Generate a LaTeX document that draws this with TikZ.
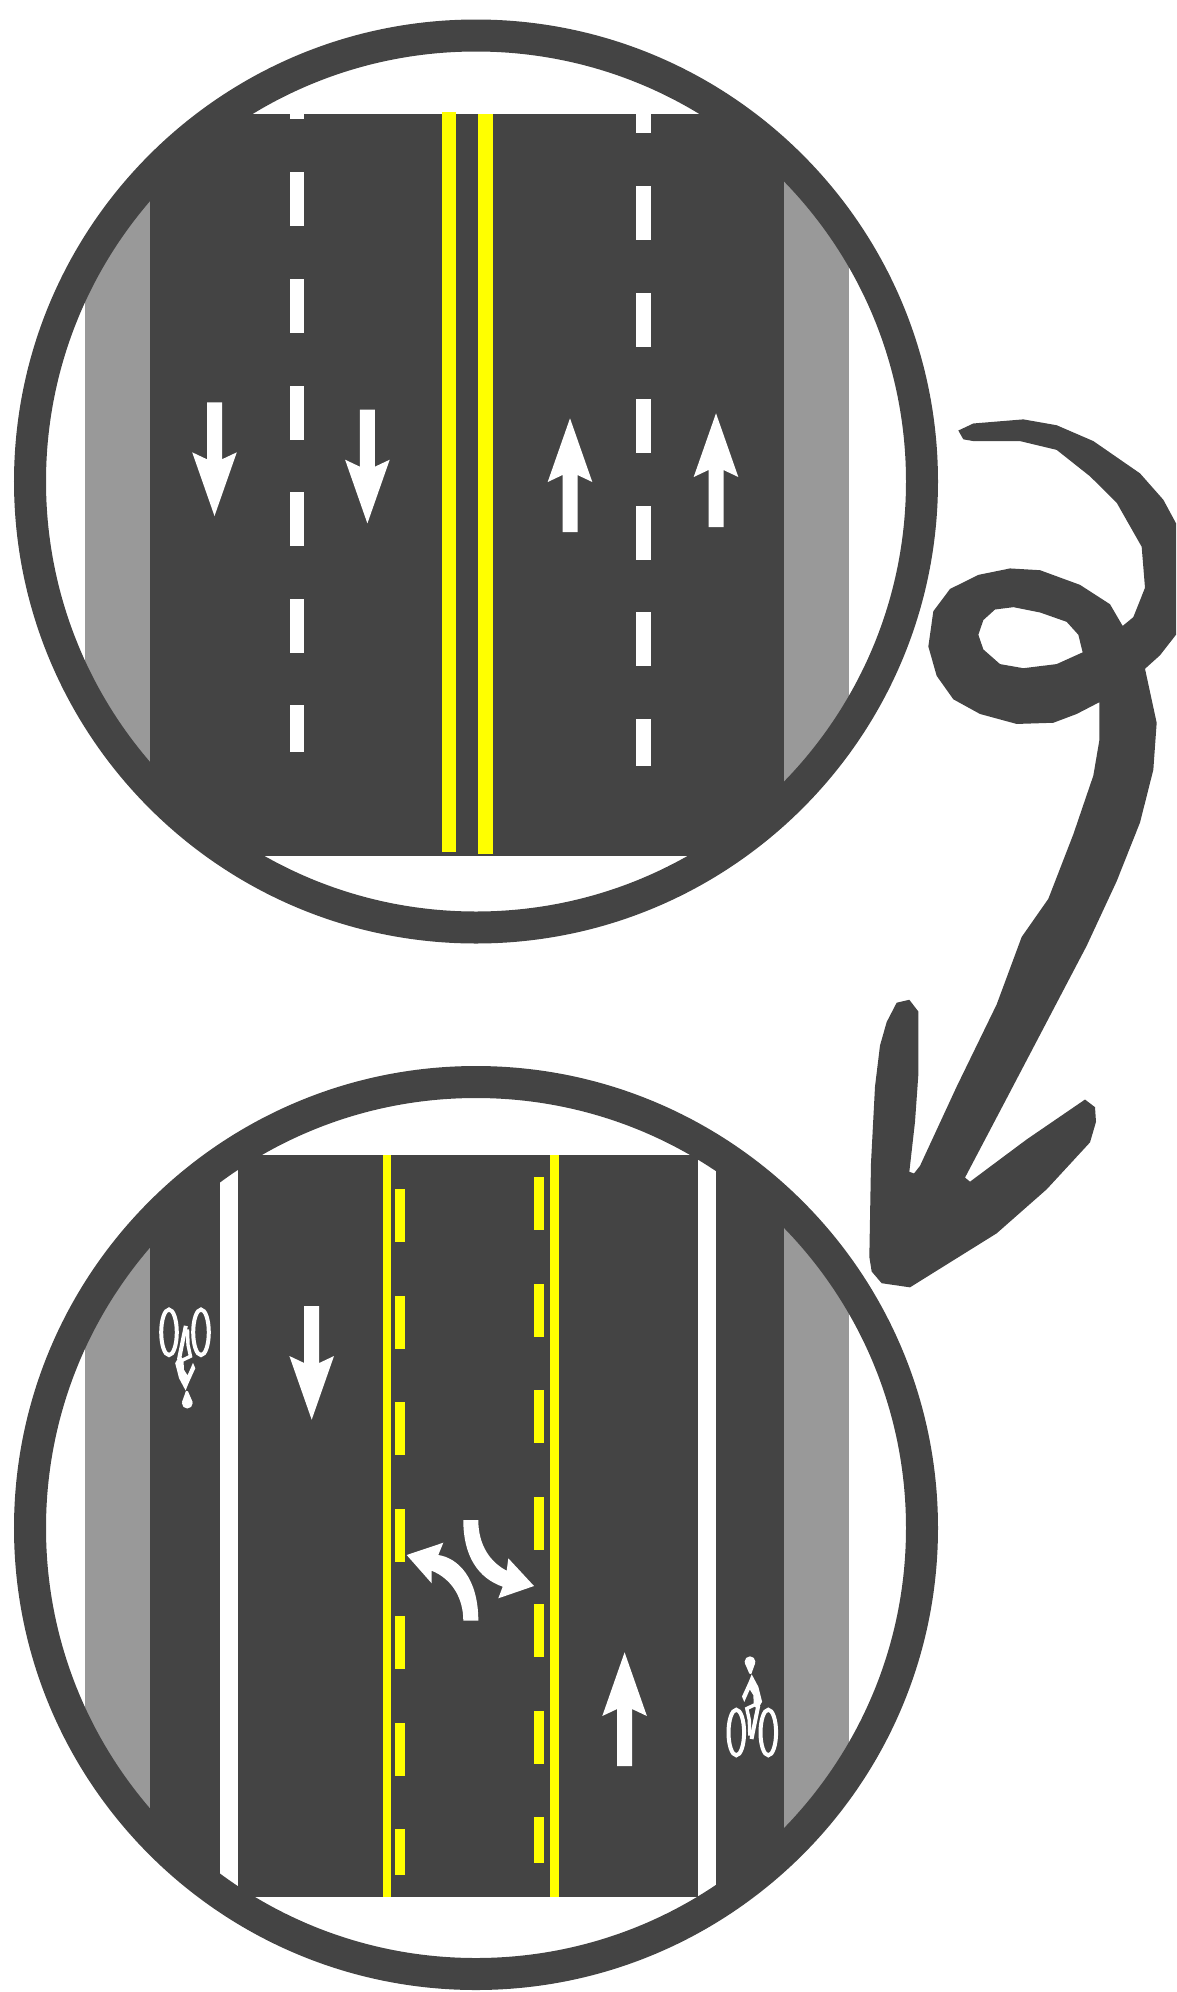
\documentclass[tikz,border=0pt]{standalone}
\usepackage{xcolor}
\usetikzlibrary{calc}
\definecolor{rdasphalt}{RGB}{68,68,68}
\definecolor{rdverge}{RGB}{153,153,153}
\definecolor{rdyellow}{RGB}{255,255,0}
\begin{document}
\begin{tikzpicture}[
  x=1pt,y=-1pt,
  ring/.style={draw=rdasphalt,line width=32pt},
  asphalt/.style={fill=rdasphalt},
  verge/.style={fill=rdverge},
  paint/.style={fill=white},
  yellowpaint/.style={fill=rdyellow},
  lanearrow/.pic={
    \fill[white] (-7.5,0) -- (-7.5,57) -- (-22.3,50) -- (0,113.7) -- (22.3,50) -- (7.5,57) -- (7.5,0) -- cycle;
  },
  bikesign/.pic={
    \draw[white,line width=4pt] (-16,0) ellipse (7.8 and 22.8);
    \draw[white,line width=4pt] (16,0) ellipse (7.8 and 22.8);
    \fill[white] (-2.3,-70.8) circle[radius=5.4];
    \fill[white] (-7.5,-69.5) -- (2.9,-69.5) -- (-1,-58.5) -- (-3,-59) -- cycle;
    \fill[white] (-0.6,-58.2) -- (6,-45.8) -- (9.8,-30.8) -- (5,-22.5) -- (1.5,-28) -- (1,-37.5) -- (-2.5,-43) -- (-6.5,-34) -- (-8,-30.5) -- (-10.3,-36) -- (-3.5,-51) -- cycle;
    \draw[white,line width=3.4pt] (3,-28) -- (-5.5,-24) -- (-3,-12.5) -- (-2.5,3);
    \draw[white,line width=4pt] (6,-27) -- (-0.8,6.5);
  }
]
  \useasboundingbox (0,0) rectangle (1176,1992);
  \coordinate (topc) at (476,481.5);
  \coordinate (botc) at (476,1528);

  \begin{scope}
    \clip (topc) circle[radius=436];
    \fill[verge] (84.5,0) rectangle (150,960);
    \fill[verge] (784,0) rectangle (849,960);
    \fill[asphalt] (150,114) rectangle (784,855.5);
    \fill[asphalt] (150,0) rectangle (200,960);
    \fill[asphalt] (734,0) rectangle (784,960);
  \end{scope}
  \fill[paint] (289.6,114) rectangle (304.4,119);
  \foreach \y in {172,279,386,492,599} {
    \fill[paint] (289.6,\y) rectangle (304.4,\y+54);
  }
  \fill[paint] (289.6,705) rectangle (304.4,752);
  \fill[paint] (636,114) rectangle (650.5,133);
  \foreach \y in {186,293,399,506,612} {
    \fill[paint] (636,\y) rectangle (650.5,\y+54);
  }
  \fill[paint] (636,719) rectangle (650.5,765.5);
  \fill[yellowpaint] (441.5,112) rectangle (455.6,852);
  \fill[yellowpaint] (478,114) rectangle (493,854);
  \pic at (214.5,402.3) {lanearrow};
  \pic at (367.4,409.7) {lanearrow};
  \pic[rotate=180] at (570,532) {lanearrow};
  \pic[rotate=180] at (716,527) {lanearrow};
  \draw[ring] (topc) circle[radius=446];

  \begin{scope}
    \clip (botc) circle[radius=436];
    \fill[verge] (84.5,1040) rectangle (150,2000);
    \fill[verge] (784,1040) rectangle (849,2000);
    \fill[asphalt] (150,1155.4) rectangle (784,1896.7);
    \fill[asphalt] (150,1040) rectangle (200,2000);
    \fill[asphalt] (734,1040) rectangle (784,2000);
    \fill[paint] (220,1155.4) rectangle (238,1896.7);
    \fill[paint] (697.5,1155.4) rectangle (716,1896.7);
  \end{scope}
  \fill[yellowpaint] (382.7,1155.4) rectangle (391.3,1896.7);
  \fill[yellowpaint] (550,1155.4) rectangle (558.5,1896.7);
  \foreach \y in {1188.8,1295.6,1401.9,1508.7,1615.6,1722.5} {
    \fill[yellowpaint] (395,\y) rectangle (404.5,\y+53);
  }
  \fill[yellowpaint] (395,1828.7) rectangle (404.5,1875);
  \foreach \y in {1177.2,1284,1390.3,1497.2,1604,1710.9} {
    \fill[yellowpaint] (534,\y) rectangle (544,\y+53);
  }
  \fill[yellowpaint] (534,1817.2) rectangle (544,1863.3);
  \pic at (311.7,1306) {lanearrow};
  \pic[rotate=180] at (624.6,1766) {lanearrow};
  \pic at (752.3,1732.5) {bikesign};
  \pic[rotate=180] at (185,1332.3) {bikesign};
  \fill[white] (406.7,1555) -- (443.3,1542.7) -- (438.3,1555) .. controls (458,1558) and (478.3,1578) .. (478.3,1620.7) -- (463.3,1620.7) .. controls (463.3,1598) and (452,1579) .. (431.7,1570.7) -- (431.7,1583.3) -- cycle;
  \fill[white] (463.3,1520) -- (478.3,1520) .. controls (478.3,1545) and (490,1562) .. (506.7,1570.7) -- (508.3,1558.3) -- (534,1586) -- (498.3,1598.3) -- (502.7,1586.7) .. controls (478,1578) and (463.3,1556) .. (463.3,1520) -- cycle;
  \draw[ring] (botc) circle[radius=446];

  \begin{scope}[shift={(840,400)},x=0.33333pt,y=-0.58685pt]
    \fill[asphalt,even odd rule]
      (355,52) -- (400,40) -- (550,33) -- (650,43) -- (760,70) -- (900,125) -- (970,170) -- (1008,210)
      -- (1008,400) -- (960,435) -- (915,458) -- (950,550) -- (940,630) -- (900,720) -- (830,820)
      -- (740,930) -- (620,1060) -- (500,1190) -- (375,1325) -- (390,1332) -- (560,1260) -- (735,1192)
      -- (765,1205) -- (768,1230) -- (750,1265) -- (620,1345) -- (470,1420) -- (210,1512) -- (125,1505)
      -- (95,1485) -- (88,1460) -- (93,1300) -- (105,1170) -- (120,1100) -- (140,1060) -- (170,1027)
      -- (208,1022) -- (235,1042) -- (235,1150) -- (225,1230) -- (208,1315) -- (222,1318) -- (240,1305)
      -- (350,1170) -- (470,1030) -- (545,915) -- (625,850) -- (700,740) -- (760,640) -- (778,580)
      -- (778,515) -- (710,535) -- (640,550) -- (530,552) -- (420,535) -- (340,510) -- (290,470)
      -- (265,420) -- (280,360) -- (330,322) -- (415,298) -- (510,287) -- (600,290) -- (720,315)
      -- (810,348) -- (848,385) -- (880,370) -- (915,320) -- (905,250) -- (830,175) -- (750,130)
      -- (650,85) -- (540,70) -- (400,70) -- (370,67) -- cycle
      (415,400) -- (430,375) -- (465,357) -- (520,353) -- (600,362) -- (680,378) -- (715,400)
      -- (728,430) -- (650,450) -- (550,457) -- (480,450) -- (430,425) -- cycle;
  \end{scope}
\end{tikzpicture}
\end{document}
